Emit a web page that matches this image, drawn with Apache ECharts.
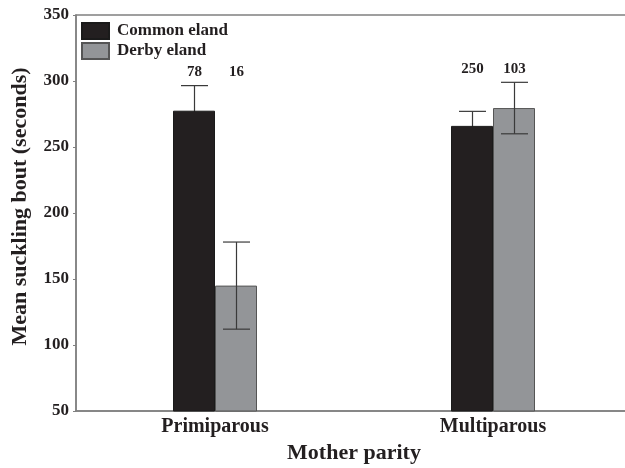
<!DOCTYPE html>
<html>
<head>
<meta charset="utf-8">
<script src="https://cdn.jsdelivr.net/npm/echarts@6/dist/echarts.min.js"></script>
<style>
html,body{margin:0;padding:0;background:#fff;}
#chart{width:625px;height:468px;}
</style>
</head>
<body>
<div id="chart"></div>
<script>
// ---- data ----
var categories = ['Primiparous', 'Multiparous'];
var seriesNames = ['Common eland', 'Derby eland'];
var commonMean = [277.5, 266];
var commonErr = [19, 11];
var derbyMean = [145, 279.5];
var derbyErr = [33, 19.5];
var commonN = [78, 250];
var derbyN = [16, 103];
var yTicks = [50, 100, 150, 200, 250, 300, 350];

// ---- style ----
var FONT = '"Liberation Serif", "Times New Roman", serif';
var INK = '#231f20';
var BAR_W = 42;
var CAP_W = 27;

var groupTop = categories.map(function (c, i) {
  return Math.max(commonMean[i] + commonErr[i], derbyMean[i] + derbyErr[i]);
});

function errData(means, errs, ns) {
  return categories.map(function (c, i) { return [i, means[i], errs[i], ns[i], groupTop[i]]; });
}

function makeErr(sign) {
  return function (params, api) {
    var i = api.value(0), m = api.value(1), e = api.value(2), n = api.value(3), gt = api.value(4);
    var top = api.coord([i, m + e]);
    var bot = api.coord([i, m - e]);
    var cx = Math.round(top[0] + sign * BAR_W / 2) + 0.5;
    var ly = api.coord([i, gt])[1] - 13;
    var st = { stroke: '#3a3a3a', lineWidth: 1.2 };
    return {
      type: 'group',
      children: [
        { type: 'line', shape: { x1: cx, y1: top[1], x2: cx, y2: bot[1] }, style: st },
        { type: 'line', shape: { x1: cx - CAP_W / 2, y1: top[1], x2: cx + CAP_W / 2, y2: top[1] }, style: st },
        { type: 'line', shape: { x1: cx - CAP_W / 2, y1: bot[1], x2: cx + CAP_W / 2, y2: bot[1] }, style: st },
        { type: 'text', style: { text: String(n), x: cx, y: ly, textAlign: 'center', textVerticalAlign: 'middle',
          font: 'bold 15px ' + FONT, fill: INK } }
      ]
    };
  };
}

var chart = echarts.init(document.getElementById('chart'), null, { renderer: 'canvas' });
chart.setOption({
  animation: false,
  backgroundColor: '#fff',
  grid: { left: 76, top: 15, width: 556, height: 396, outerBoundsMode: 'none', containLabel: false,
    show: true, borderColor: '#808080', borderWidth: 1.5, backgroundColor: 'transparent' },
  legend: {
    data: seriesNames,
    orient: 'vertical',
    left: 81, top: 22,
    padding: 0,
    icon: 'rect',
    itemWidth: 27, itemHeight: 16, itemGap: 2,
    textStyle: { fontFamily: FONT, fontWeight: 'bold', fontSize: 17, color: INK, padding: [0, 0, 0, 3] }
  },
  xAxis: {
    type: 'category',
    data: categories,
    name: 'Mother parity',
    nameLocation: 'middle',
    nameGap: 31,
    nameTextStyle: { fontFamily: FONT, fontWeight: 'bold', fontSize: 22, color: INK },
    axisLine: { lineStyle: { color: '#808080', width: 1.5 } },
    axisTick: { show: false },
    axisLabel: { fontFamily: FONT, fontWeight: 'bold', fontSize: 20, color: INK, margin: 6 }
  },
  yAxis: {
    type: 'value',
    min: yTicks[0], max: yTicks[yTicks.length - 1], interval: 50,
    name: 'Mean suckling bout (seconds)',
    nameLocation: 'middle',
    nameGap: 45,
    nameTextStyle: { fontFamily: FONT, fontWeight: 'bold', fontSize: 22, color: INK, padding: [0, 0, 0, 13] },
    axisLine: { show: true, lineStyle: { color: '#808080', width: 1.5 } },
    axisTick: { show: true, length: 3, lineStyle: { color: '#808080' } },
    splitLine: { show: false },
    axisLabel: { fontFamily: FONT, fontWeight: 'bold', fontSize: 17, color: INK, margin: 7 }
  },
  series: [
    { name: seriesNames[0], type: 'bar', data: commonMean, barWidth: BAR_W, barGap: '0%', clip: true, z: 3,
      itemStyle: { color: INK, borderColor: '#1a1a1a', borderWidth: 1 } },
    { name: seriesNames[1], type: 'bar', data: derbyMean, barWidth: BAR_W, barGap: '0%', clip: true, z: 3,
      itemStyle: { color: '#939598', borderColor: '#555555', borderWidth: 1 } },
    { type: 'custom', renderItem: makeErr(-1), data: errData(commonMean, commonErr, commonN), z: 1, encode: { x: 0, y: 1 } },
    { type: 'custom', renderItem: makeErr(1), data: errData(derbyMean, derbyErr, derbyN), z: 5, encode: { x: 0, y: 1 } }
  ]
});
</script>
</body>
</html>
